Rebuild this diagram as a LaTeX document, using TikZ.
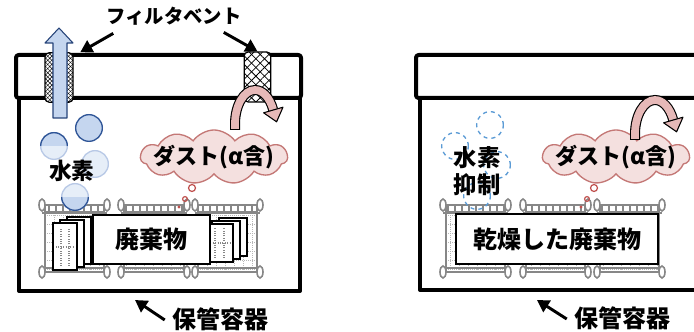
\documentclass[tikz,border=0pt]{standalone}
\usepackage{fontspec}
\setmainfont{Noto Sans CJK JP}
\usetikzlibrary{shapes.symbols, arrows.meta, patterns.meta, calc}

\definecolor{bubblue}{RGB}{197, 214, 239}
\definecolor{bubpale}{RGB}{230, 238, 248}
\definecolor{bubedge}{RGB}{47, 85, 151}
\definecolor{bubedgepale}{RGB}{184, 201, 230}
\definecolor{dashblue}{RGB}{91, 155, 213}
\definecolor{dustfill}{RGB}{244, 224, 223}
\definecolor{dustedge}{RGB}{196, 120, 118}
\definecolor{flowpink}{RGB}{230, 185, 184}
\definecolor{dotred}{RGB}{192, 80, 77}
\definecolor{rackgray}{RGB}{135, 135, 135}

\begin{document}
\begin{tikzpicture}[
  x=0.75pt, y=0.75pt,
  wall/.style={line width=3pt, line join=round},
  lbl/.style={font=\bfseries\fontsize{18pt}{20pt}\selectfont, inner sep=0pt},
  tag/.style={line width=2.2pt, -{Triangle[length=9pt, width=10pt]}},
  ventfine/.style={draw, line width=0.9pt, rounded corners=3pt, fill=white, minimum width=21pt, minimum height=37pt, inner sep=0pt,
    postaction={pattern={Lines[angle=45, distance=2.2pt, line width=0.35pt]}},
    postaction={pattern={Lines[angle=-45, distance=2.2pt, line width=0.35pt]}}},
  ventwide/.style={draw, line width=0.9pt, rounded corners=3pt, fill=white, minimum width=20pt, minimum height=37.5pt, inner sep=0pt,
    postaction={pattern={Lines[angle=45, distance=4.6pt, line width=0.6pt]}},
    postaction={pattern={Lines[angle=-45, distance=4.6pt, line width=0.6pt]}}},
  bubble/.style={circle, draw=bubedge, line width=1pt, minimum size=20pt, inner sep=0pt, outer sep=0pt},
  hdash/.style={circle, draw=dashblue, dashed, line width=1pt, minimum size=20pt, inner sep=0pt},
  dust/.style={cloud, cloud puffs=11, cloud puff arc=110, cloud ignores aspect, draw=dustedge, line width=1pt, fill=dustfill,
    minimum height=36pt, inner ysep=0pt, inner xsep=-6pt, font=\bfseries\fontsize{16.5pt}{18pt}\selectfont},
  wastebox/.style={draw, line width=1.5pt, fill=white, minimum height=37pt, inner sep=0pt, font=\bfseries\fontsize{18pt}{20pt}\selectfont},
  rack/.style={draw=rackgray, line width=1.2pt},
  rackgrid/.style={draw=rackgray!60, line width=0.5pt, densely dotted},
  drum/.style={draw, line width=2pt, fill=white},
  flowband/.style={line width=7.5pt},
  flowcore/.style={line width=5.8pt, draw=flowpink, shorten <=0.8pt},
  flowhead/.style={fill=flowpink, draw, line width=0.8pt, line join=round}
]
\useasboundingbox (0,0) rectangle (694,332);

% --- racks under the waste (both containers) ---
\foreach \xa/\xb in {42/107, 121/187, 195/260, 443/508, 523/588, 597/662} {
  \draw[rackgrid] (\xa+3,60) grid[xstep=9, ystep=9] (\xb-3,119);
  \draw[rack] (\xa+3,119) grid[xstep=7, ystep=8] (\xb-3,127);
  \draw[rack] (\xa+3,60) -- (\xa+3,127) (\xb-3,60) -- (\xb-3,127);
  \draw[rack] (\xa,60) -- (\xb,60) (\xa,64) -- (\xb,64) (\xa,127) -- (\xb,127) (\xa,119) -- (\xb,119);
  \foreach \xo in {\xa,\xb}
    \foreach \yo in {60,127}
      \draw[rack, fill=white] (\xo,\yo) ellipse [x radius=3, y radius=6];
}

% stacked drums beside the waste
\foreach \dx/\dy in {14/6, 7/3, 0/0} {
  \draw[drum] (53+\dx,62+\dy) rectangle ++(24,47);
  \draw[drum] (205+\dx,70+\dy) rectangle ++(28,38);
}
\draw[rackgray, line width=0.8pt, densely dotted] (61,66) -- (61,104) (69,66) -- (69,104) (56,85) -- (74,85)
  (215,74) -- (215,104) (224,74) -- (224,104) (208,89) -- (230,89);

% --- left container ---
\draw[wall, rounded corners=2pt] (16,234) rectangle (301,277);
\draw[wall] (19,234) -- (19,41) -- (300,41) -- (300,234);

\node[ventfine] (ventL) at (59,254.5) {};
\node[ventwide] (ventR) at (257.5,255) {};
\filldraw[bubblue, draw=bubedge!80!black, line width=0.8pt, line join=round]
  (53,214) -- (53,289) -- (45,289) -- (59,304) -- (73,289) -- (67,289) -- (67,214) -- cycle;

\node[lbl, font=\bfseries\fontsize{14.5pt}{16pt}\selectfont] (ventlbl) at (174,316) {フィルタベント};
\draw[tag] ([shift={(7,-8)}]ventlbl.south west) -- ([xshift=5pt]ventL.north east);
\draw[tag] ([shift={(-18,-7)}]ventlbl.south east) -- (ventR.north);

% hydrogen bubbles
\node[bubble, fill=bubblue] (h1) at (89,204) {};
\node[bubble, draw=bubedgepale, fill=bubpale,
  path picture={\fill[bubblue] (path picture bounding box.west) rectangle (path picture bounding box.north east);}] (h2) at (54,186) {};
\draw[bubedge, line width=1pt] (h2.east) arc[start angle=0, end angle=180, radius=13.33];
\node[bubble, draw=bubedgepale, fill=bubpale] (h3) at (95,168) {};
\node[bubble, draw=bubedgepale, fill=bubpale,
  path picture={\fill[bubblue] (path picture bounding box.west) rectangle (path picture bounding box.south east);}] (h4) at (75,135) {};
\draw[bubedge, line width=1pt] (h4.west) arc[start angle=180, end angle=360, radius=13.33];
\node[lbl, font=\bfseries\fontsize{17pt}{20pt}\selectfont] (h2lbl) at (72,161) {水素};

\node[dust] (dustL) at (214,175) {ダスト(α含)};

\node[wastebox, minimum width=88pt] (wasteL) at (151.5,92.5) {廃棄物};

\node[lbl] (binlblL) at (220,13) {保管容器};
\coordinate (binL) at (135,32);
\draw[tag] ([shift={(-7,-1)}]binlblL.west) -- (binL);

% --- right container ---
\draw[wall, rounded corners=2pt] (416,234) rectangle (720,277);
\draw[wall] (420,234) -- (420,42) -- (720,42);

\node[hdash] (d1) at (490,207) {};
\node[hdash] (d2) at (455,186) {};
\node[hdash] (d3) at (497,167) {};
\node[hdash] (d4) at (477,136) {};
\node[lbl, align=center, font=\bfseries\fontsize{17.5pt}{20pt}\selectfont] (suplbl) at (477,161) {水素\\抑制};

\node[dust] (dustR) at (616,175) {ダスト(α含)};

\node[wastebox, minimum width=151.5pt] (wasteR) at (557,93) {乾燥した廃棄物};

\node[lbl] (binlblR) at (622,14) {保管容器};
\coordinate (binR) at (537,32);
\draw[tag] ([shift={(-7,-1)}]binlblR.west) -- (binR);

% dust rising from the waste
\foreach \sx in {0,402} {
  \draw[dotred, line width=0.9pt] (192+\sx,144) circle[radius=3.5];
  \draw[dotred, line width=0.9pt] (185+\sx,133) circle[radius=2.4];
  \fill[dotred] (179+\sx,125) circle[radius=1.6];
}

% dust carried over the lid
\foreach \cx/\cy in {255/208, 655/198} {
  \begin{scope}[shift={(\cx,\cy)}]
    \draw[flowband] (-20,-6) -- (-20,0) arc[start angle=180, end angle=25, x radius=20, y radius=34];
    \draw[flowcore] (-20,-6) -- (-20,0) arc[start angle=180, end angle=25, x radius=20, y radius=34];
    \filldraw[flowhead] (28,16.8) -- (21.6,2.2) -- (8.6,11.2) -- cycle;
  \end{scope}
}
\end{tikzpicture}
\end{document}
